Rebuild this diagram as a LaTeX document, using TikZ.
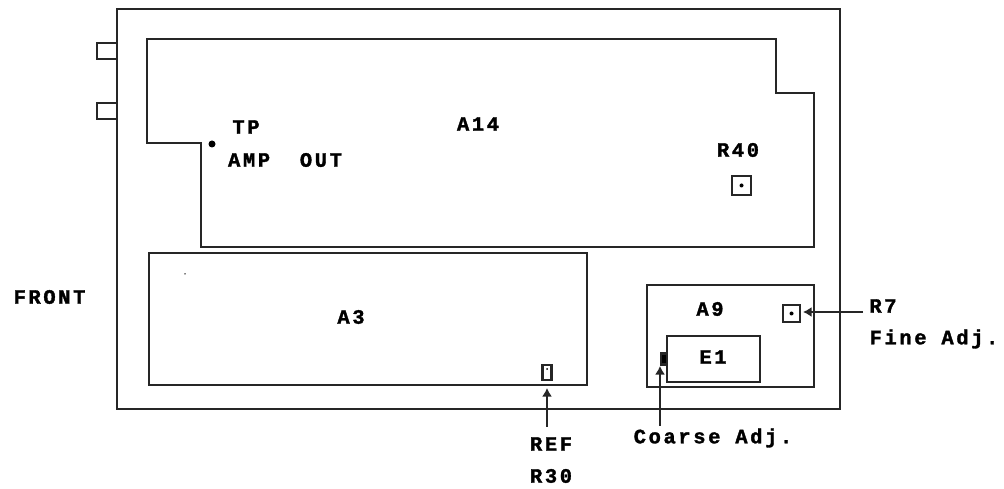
\documentclass[tikz,border=0pt]{standalone}
\usepackage{fontspec}
\newfontfamily\panelfont[LetterSpace=13,BoldFeatures={FakeBold=1.6}]{Liberation Mono}
\usetikzlibrary{arrows.meta}
\tikzset{
  board/.style={rectangle, draw, inner sep=0pt, outer sep=0pt},
  panel/.style={inner sep=0pt, yshift=0.01cm, font=\panelfont\bfseries\fontsize{5.8}{7}\selectfont},
}

\begin{document}
\begin{tikzpicture}[x=0.01cm, y=-0.01cm, >={Latex[length=0.085cm,width=0.1cm]}, line width=0.6pt, draw=black!85]
    \useasboundingbox (0,0) rectangle (1004,489);

    % Boards
    \node [board, minimum width=7.23cm, minimum height=4cm] (case) at (478.5,209) {};
    \node [board, minimum width=0.2cm, minimum height=0.16cm] (jackA) at (107,51) {};
    \node [board, minimum width=0.2cm, minimum height=0.16cm] (jackB) at (107,111) {};
    \draw (147,39) -- (776,39) -- (776,93) -- (814,93) -- (814,247) -- (201,247) -- (201,143) -- (147,143) -- cycle;
    \node [board, minimum width=4.38cm, minimum height=1.32cm] (A3) at (368,319) {};
    \node [board, minimum width=1.67cm, minimum height=1.02cm] (A9) at (730.5,336) {};
    \node [board, minimum width=0.93cm, minimum height=0.46cm] (E1) at (713.5,359) {};

    % Adjusters
    \node [board, minimum width=0.19cm, minimum height=0.19cm] (R40) at (741.5,185.5) {};
    \node [board, minimum width=0.17cm, minimum height=0.17cm] (R7) at (791.5,313.5) {};
    \node [board, minimum width=0.09cm, minimum height=0.15cm] (R30) at (547,372.5) {};
    \node [board, fill, minimum width=0.06cm, minimum height=0.11cm] (coarse) at (664,359) {};
    \node [circle, fill, inner sep=0pt, minimum size=0.07cm] (tp) at (212,144) {};
    \node [circle, fill, inner sep=0pt, minimum size=0.04cm] (R40dot) at (R40.center) {};
    \node [circle, fill, inner sep=0pt, minimum size=0.04cm] (R7dot) at (R7.center) {};
    \node [circle, fill, inner sep=0pt, minimum size=0.02cm] (R30dot) at (547,369) {};
    \node [circle, fill, inner sep=0pt, minimum size=0.015cm] (A3dot) at (185,274) {};

    % Texts
    \node [panel] (tpText) at (246,128) {TP};
    \node [panel] (ampText) at (285,161) {AMP\ \ OUT};
    \node [panel] (A14Text) at (478,125) {A14};
    \node [panel] (R40Text) at (738,151) {R40};
    \node [panel] (frontText) at (49.5,298) {FRONT};
    \node [panel] (A3Text) at (351,318) {A3};
    \node [panel] (A9Text) at (710,310) {A9};
    \node [panel] (E1Text) at (713,358) {E1};
    \node [panel] (R7Text) at (883,307) {R7};
    \node [panel] (fineText) at (934,340) {Fine Adj.};
    \node [panel] (coarseText) at (713,439) {Coarse Adj.};
    \node [panel] (refText) at (551,445) {REF};
    \node [panel] (R30Text) at (551,477) {R30};

    % Arrows
    \coordinate (R7tail) at (863,312);
    \coordinate (coarseTail) at (660,426);
    \coordinate (R30tail) at (547,427);
    \draw [->, shorten >=0.03cm] (R7tail) -- (R7.east |- R7tail);
    \draw [->] (coarseTail) -- (660,366);
    \draw [->, shorten >=0.08cm] (R30tail) -- (R30.south);

\end{tikzpicture}
\end{document}
